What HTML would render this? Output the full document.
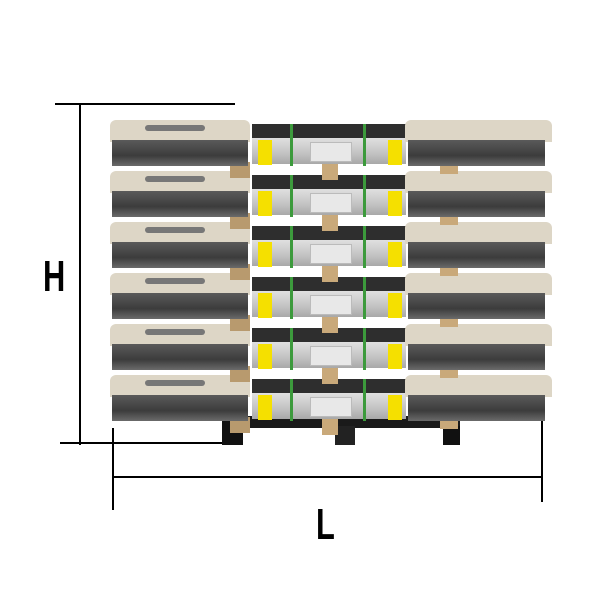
<!DOCTYPE html>
<html><head><meta charset="utf-8"><style>
body{margin:0;width:600px;height:600px;background:#fff;position:relative;overflow:hidden}
div{position:absolute}
.t{font-family:"Liberation Sans",sans-serif;font-weight:bold;color:#000}
</style></head><body>
<!-- dimension lines -->
<div style="left:55px;top:103px;width:180px;height:2px;background:#000"></div>
<div style="left:79px;top:104px;width:2px;height:341px;background:#000"></div>
<div style="left:60px;top:442px;width:163px;height:2px;background:#000"></div>
<div style="left:112px;top:428px;width:2px;height:82px;background:#000"></div>
<div style="left:541px;top:417px;width:2px;height:85px;background:#000"></div>
<div style="left:112px;top:476px;width:431px;height:2px;background:#000"></div>
<div class="t" style="left:43px;top:252px;font-size:44px;transform:scaleX(0.7);transform-origin:left top">H</div>
<div class="t" style="left:316px;top:500px;font-size:44px;transform:scaleX(0.7);transform-origin:left top">L</div>
<!-- pallet -->
<div style="left:222px;top:416px;width:238px;height:12px;background:#1a1a1a"></div>
<div style="left:222px;top:420px;width:21px;height:25px;background:#111"></div>
<div style="left:335px;top:426px;width:20px;height:19px;background:#222"></div>
<div style="left:443px;top:426px;width:17px;height:19px;background:#111"></div>
<div id="s"></div>
<script>
var h='';
for(var i=5;i>=0;i--){var T=118+51*i;
h+='<div style="left:322px;top:'+(T+46)+'px;width:16px;height:16px;background:#c9a97a"></div>';
h+='<div style="left:230px;top:'+(T+44)+'px;width:20px;height:16px;background:#b89a6e"></div>';
h+='<div style="left:440px;top:'+(T+44)+'px;width:18px;height:12px;background:#c9a97a"></div>';
h+='<div style="left:110px;top:'+(T+2)+'px;width:140px;height:22px;background:#ddd6c6;border-radius:6px 6px 0 0"></div>';
h+='<div style="left:145px;top:'+(T+7)+'px;width:60px;height:6px;background:#777;border-radius:3px"></div>';
h+='<div style="left:112px;top:'+(T+22)+'px;width:136px;height:26px;background:linear-gradient(#5a5a5a,#3c3c3c 60%,#6a6a6a)"></div>';
h+='<div style="left:252px;top:'+(T+6)+'px;width:154px;height:16px;background:#2e2e2e"></div>';
h+='<div style="left:252px;top:'+(T+20)+'px;width:154px;height:26px;background:linear-gradient(#e0e0e0,#c2c2c2 60%,#a8a8a8)"></div>';
h+='<div style="left:310px;top:'+(T+24)+'px;width:40px;height:18px;background:#e8e8e8;border:1px solid #bbb"></div>';
h+='<div style="left:290px;top:'+(T+6)+'px;width:3px;height:42px;background:#3c9a3c"></div>';
h+='<div style="left:363px;top:'+(T+6)+'px;width:3px;height:42px;background:#3c9a3c"></div>';
h+='<div style="left:258px;top:'+(T+22)+'px;width:14px;height:25px;background:#f5e000"></div>';
h+='<div style="left:388px;top:'+(T+22)+'px;width:14px;height:25px;background:#f5e000"></div>';
h+='<div style="left:405px;top:'+(T+2)+'px;width:147px;height:22px;background:#ddd6c6;border-radius:6px 6px 0 0"></div>';
h+='<div style="left:408px;top:'+(T+22)+'px;width:137px;height:26px;background:linear-gradient(#5a5a5a,#3c3c3c 60%,#6a6a6a)"></div>';
}
document.getElementById('s').outerHTML=h;
</script>
</body></html>
